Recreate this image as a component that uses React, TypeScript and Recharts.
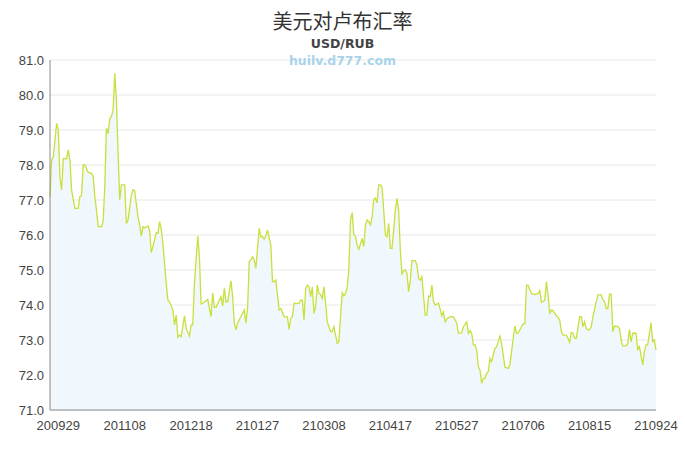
import { AreaChart, Area, XAxis, YAxis, CartesianGrid } from 'recharts';

// days counted from 2020-09-24
const days = [
  0, 1, 2, 4, 5, 6, 7, 8, 10, 11, 12, 13, 15,
  17, 18, 19, 20, 21, 23, 25, 26, 27, 28, 29, 31, 32, 33, 34, 35, 36, 37, 38, 39, 40, 41, 42, 43,
  45, 46, 47, 49, 50, 51, 53, 54, 55, 56, 57, 59, 60, 61, 62, 64, 65, 66, 67, 68, 70, 71, 72, 74,
  75, 76, 77, 78, 79, 81, 82, 84, 85, 86, 87, 89, 90, 91, 92,
  95, 97, 98, 99, 100, 102, 103, 104, 105, 106, 107, 109, 110, 111, 112, 113, 115, 117, 118, 119,
  120, 121, 122, 123, 124, 126, 127, 128, 129, 130, 131, 133, 134, 135, 136, 137, 138, 139, 141,
  143, 144, 145, 146, 147, 149, 150, 151, 152, 153, 154, 155, 156, 157, 158, 159, 160, 161, 162,
  163, 164, 165, 166, 167, 168, 169, 170, 171,
  173, 174, 175, 176, 177, 178, 179, 180, 181, 182, 183, 184, 185, 186, 188, 189, 190, 191, 192,
  193, 194, 195, 196, 197, 198, 199, 200, 201, 202, 203, 204, 205, 206, 207, 208, 209, 210, 211,
  212, 213, 214, 215, 216, 217, 218, 220, 221, 222, 223, 224, 225, 226, 227, 228, 229, 230, 231,
  232, 234, 235, 236, 237, 238, 239, 241, 243, 245, 246, 248, 249,
  251, 252, 253, 254, 255, 256, 257, 258, 259, 260, 261, 262, 263, 264, 265, 266, 268, 269, 271,
  272, 273, 274, 276, 277, 278, 279, 280, 281, 282, 284, 285, 286, 287, 288, 289, 290, 292, 294,
  295, 296, 297, 298, 299, 300, 301, 302, 303, 305, 306, 307, 308, 309, 311, 312, 313, 314, 315,
  316, 317, 319, 320, 321, 322, 323, 324, 325, 326, 327,
  329, 330, 332, 333, 334, 335, 336, 337, 338, 339, 340, 342, 343, 344, 345, 347, 348, 349, 350,
  351, 352, 353, 354, 355, 357, 358, 359, 360, 362, 363, 364, 365,
];

const rates = [
  77.09, 78.14, 78.24, 79.19, 79.0, 77.62, 77.29, 78.19, 78.18, 78.43, 78.14, 77.29, 76.76,
  76.76, 77.1, 77.13, 78.0, 78.0, 77.79, 77.76, 77.67, 77.1, 76.71, 76.24, 76.24, 76.38, 77.38, 79.05, 78.9, 79.33, 79.38, 79.57, 80.62, 79.86, 78.33, 77.0, 77.43,
  77.43, 76.33, 76.43, 77.14, 77.29, 77.26, 76.52, 76.29, 75.97, 76.24, 76.2, 76.26, 76.14, 75.5, 75.67, 76.07, 76.05, 76.38, 76.19, 75.76, 74.62, 74.14, 74.09, 73.86,
  73.43, 73.71, 73.08, 73.14, 73.1, 73.69, 73.33, 73.11, 73.43, 73.43, 74.62, 75.97, 75.38, 74.03, 74.05,
  74.16, 73.67, 74.35, 73.93, 73.93, 74.14, 74.24, 73.97, 74.48, 74.09, 74.09, 74.69, 74.24, 73.48, 73.29, 73.48, 73.67, 73.86, 73.48, 73.9,
  75.24, 75.29, 75.38, 75.29, 75.05, 76.19, 75.95, 75.95, 75.88, 75.97, 76.14, 75.71, 74.67, 74.67, 74.71, 74.29, 73.86, 73.9, 73.67,
  73.66, 73.3, 73.62, 73.67, 74.05, 74.04, 74.05, 74.14, 74.14, 73.57, 74.48, 74.57, 74.52, 74.24, 74.52, 73.76, 73.95, 74.57, 74.33,
  74.3, 74.19, 74.52, 74.05, 73.52, 73.38, 73.24, 73.24, 73.38,
  72.9, 72.95, 73.67, 74.35, 74.26, 74.33, 74.5, 75.0, 76.43, 76.64, 76.0, 75.97, 75.71, 75.59, 75.9, 75.67, 76.29, 76.43, 76.38,
  76.29, 76.52, 77.02, 77.05, 76.92, 77.43, 77.43, 77.38, 76.71, 76.0, 75.95, 76.33, 75.62, 75.62, 76.14, 76.71, 77.05, 76.71, 75.57,
  74.89, 74.98, 75.0, 74.9, 74.38, 74.71, 75.27, 75.27, 75.14, 74.76, 74.71, 74.81, 74.24, 73.71, 73.71, 74.26, 74.24, 74.57, 74.09,
  74.0, 74.05, 73.88, 73.69, 73.8, 73.52, 73.6, 73.67, 73.66, 73.48, 73.19, 73.2, 73.38,
  73.52, 73.19, 73.27, 73.19, 72.86, 72.86, 72.71, 72.24, 72.14, 71.76, 71.9, 71.9, 72.05, 72.1, 72.48, 72.38, 72.76, 72.81, 73.11,
  72.9, 72.57, 72.22, 72.19, 72.29, 72.67, 73.05, 73.4, 73.19, 73.2, 73.38, 73.46, 73.46, 74.57, 74.57, 74.43, 74.33, 74.3, 74.33,
  74.41, 74.08, 74.1, 74.14, 74.67, 74.27, 73.75, 73.86, 73.84, 73.69, 73.65, 73.57, 73.24, 73.14, 73.14, 73.05, 72.93, 73.21, 73.2,
  73.05, 73.05, 73.67, 73.67, 73.38, 73.52, 73.33, 73.29, 73.29, 73.38, 73.67,
  74.09, 74.29, 74.29, 74.16, 74.09, 73.9, 73.9, 74.31, 74.31, 73.24, 73.4, 73.38, 73.33, 73.0, 72.83, 72.83, 72.9, 73.3, 72.95,
  73.19, 73.2, 73.19, 72.73, 72.81, 72.29, 72.67, 72.86, 72.86, 73.5, 72.95, 73.0, 72.71,
];

const tickDays = [5, 45, 85, 125, 165, 205, 245, 285, 325, 365];
const tickLabels = ['200929', '201108', '201218', '210127', '210308', '210417', '210527', '210706', '210815', '210924'];
const yTicks = [71, 72, 73, 74, 75, 76, 77, 78, 79, 80, 81];

const data = days.map((d, i) => ({ day: d, rate: rates[i] }));

const labelFor = (v: number) => {
  const i = tickDays.indexOf(v);
  return i >= 0 ? tickLabels[i] : '';
};

const tickStyle = { fontFamily: 'Liberation Sans', fontSize: 13, fill: '#444' };

export default function App() {
  return (
    <div style={{ position: 'absolute', left: 0, top: 0, width: 685, height: 450, background: '#fff' }}>
      <div
        style={{
          position: 'absolute', left: 0, width: 685, top: 8, textAlign: 'center',
          fontFamily: '"Noto Sans CJK SC"', fontSize: 20, color: '#333', lineHeight: '26px',
        }}
      >
        美元对卢布汇率
      </div>
      <div
        style={{
          position: 'absolute', left: 0, width: 685, top: 36, textAlign: 'center',
          fontFamily: 'DejaVu Sans', fontSize: 12.5, fontWeight: 'bold', color: '#444', lineHeight: '16px',
        }}
      >
        USD/RUB
      </div>
      <div
        style={{
          position: 'absolute', left: 0, width: 685, top: 53, textAlign: 'center',
          fontFamily: 'DejaVu Sans', fontSize: 12.5, fontWeight: 'bold', color: '#aad3ea', lineHeight: '16px',
          zIndex: 2,
        }}
      >
        huilv.d777.com
      </div>
      <AreaChart width={685} height={450} data={data} margin={{ top: 60, right: 29, bottom: 0, left: 0 }}>
        <CartesianGrid vertical={false} stroke="#e8e8e8" />
        <XAxis
          dataKey="day"
          type="number"
          domain={[0, 365]}
          ticks={tickDays}
          interval={0}
          tickFormatter={labelFor}
          tickLine={false}
          tickMargin={5}
          axisLine={{ stroke: '#8a8a8a' }}
          tick={tickStyle}
          height={40}
        />
        <YAxis
          domain={[71, 81]}
          ticks={yTicks}
          interval={0}
          tickFormatter={(v: number) => v.toFixed(1)}
          tickLine={false}
          tickMargin={0}
          axisLine={{ stroke: '#8a8a8a' }}
          tick={tickStyle}
          width={50}
        />
        <Area
          type="linear"
          dataKey="rate"
          stroke="#c8e03c"
          strokeWidth={1.3}
          fill="#f0f7fd"
          fillOpacity={1}
          dot={false}
          activeDot={false}
          isAnimationActive={false}
        />
      </AreaChart>
    </div>
  );
}
